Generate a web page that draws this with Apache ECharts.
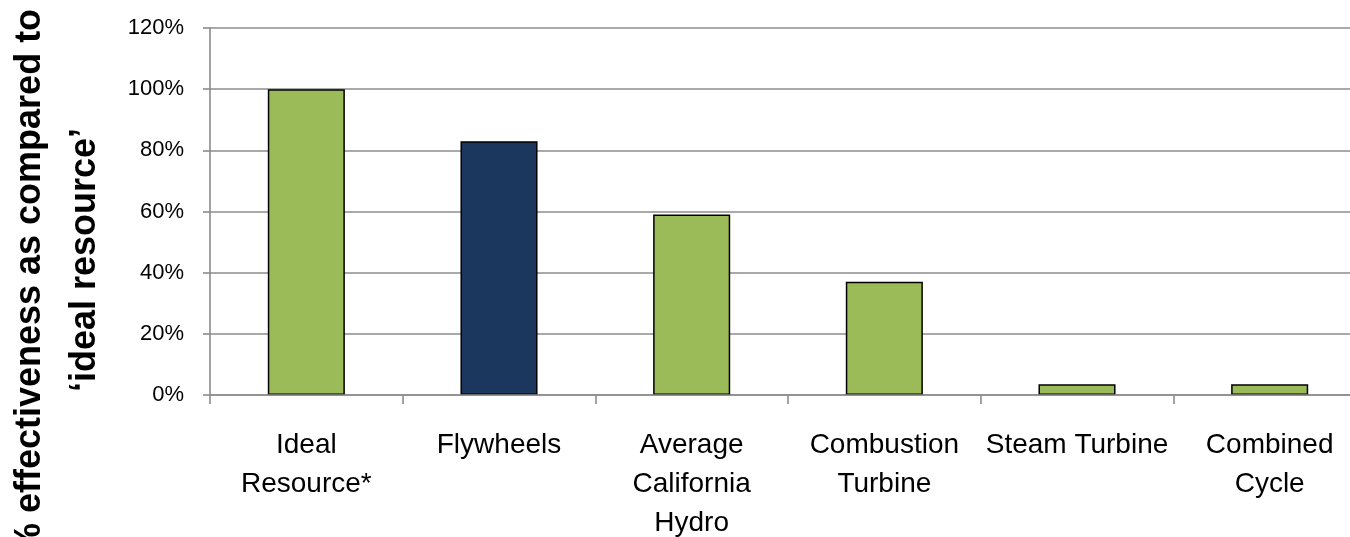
<!DOCTYPE html>
<html>
<head>
<meta charset="utf-8">
<style>
  html, body { margin: 0; padding: 0; background: #ffffff; }
  #chart { width: 1350px; height: 537px; }
</style>
<script src="https://cdn.jsdelivr.net/npm/echarts@6/dist/echarts.min.js"></script>
</head>
<body>
<div id="chart"></div>
<script>
// Resource categories (tick labels on the category axis)
const categories = [
  'Ideal\nResource*',
  'Flywheels',
  'Average\nCalifornia\nHydro',
  'Combustion\nTurbine',
  'Steam Turbine',
  'Combined\nCycle'
];

// Effectiveness relative to the ideal resource (fraction)
const effectiveness = [1.00, 0.83, 0.59, 0.37, 0.035, 0.035];

// Value axis range and step
const yMin = 0;
const yMax = 1.2;
const yStep = 0.2;

// Axis title lines
const titleLine1 = '% effectiveness as compared to';
const titleLine2 = '\u2018ideal resource\u2019';

const highlighted = 'Flywheels';
const GREEN = '#9bbb59';
const NAVY = '#1b375e';
const AXIS_GREY = '#8c8c8c';
const FONT = '"Liberation Sans", Arial, sans-serif';

const chart = echarts.init(document.getElementById('chart'), null, { renderer: 'canvas' });

chart.setOption({
  backgroundColor: '#ffffff',
  animation: false,
  grid: {
    left: 210, top: 28, height: 367, width: 1156,
    containLabel: false,
    outerBoundsMode: 'none'
  },
  xAxis: {
    type: 'category',
    data: categories,
    z: 3,
    axisLine: { lineStyle: { color: AXIS_GREY, width: 1.6 } },
    axisTick: { show: true, length: 9, lineStyle: { color: AXIS_GREY, width: 1.6 } },
    axisLabel: {
      interval: 0,
      margin: 31,
      color: '#000000',
      fontFamily: FONT,
      fontSize: 28,
      lineHeight: 39,
      align: 'center'
    },
    splitLine: { show: false }
  },
  yAxis: {
    type: 'value',
    min: yMin,
    max: yMax,
    interval: yStep,
    axisLine: { show: true, lineStyle: { color: AXIS_GREY, width: 1.6 } },
    axisTick: { show: true, length: 7, lineStyle: { color: AXIS_GREY, width: 1.6 } },
    axisLabel: {
      margin: 26,
      color: '#000000',
      fontFamily: FONT,
      fontSize: 22,
      formatter: v => Math.round(v * 100) + '%'
    },
    splitLine: { show: true, lineStyle: { color: AXIS_GREY, width: 1.6 } }
  },
  series: [{
    type: 'bar',
    data: effectiveness,
    barWidth: '40%',
    itemStyle: {
      color: p => (categories[p.dataIndex] === highlighted ? NAVY : GREEN),
      borderColor: '#000000',
      borderWidth: 1.5
    }
  }],
  graphic: [
    {
      type: 'text',
      x: 30,
      y: 282,
      rotation: Math.PI / 2,
      style: {
        text: titleLine1,
        font: 'bold 36px ' + FONT,
        fill: '#000000',
        textAlign: 'center',
        textVerticalAlign: 'middle'
      }
    },
    {
      type: 'text',
      x: 85,
      y: 260,
      rotation: Math.PI / 2,
      style: {
        text: titleLine2,
        font: 'bold 36px ' + FONT,
        fill: '#000000',
        textAlign: 'center',
        textVerticalAlign: 'middle'
      }
    }
  ]
});
</script>
</body>
</html>
